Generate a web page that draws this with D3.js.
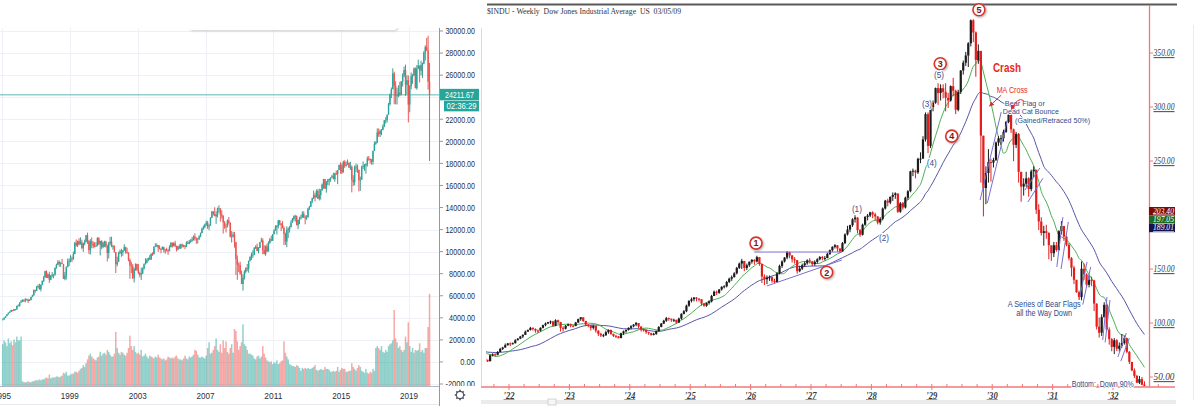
<!DOCTYPE html>
<html><head><meta charset="utf-8">
<script src="https://cdn.jsdelivr.net/npm/d3@7"></script>
<style>body{margin:0;background:#fff;}svg{display:block;}text{white-space:pre;}</style>
</head><body><svg id="c" width="1200" height="416"></svg>
<script>
// ---------------- LEFT PANEL DATA (monthly, Jan 1995 - Mar 2020) ----------------
const leftStartYear = 1995;
const leftFirstOpen = 3834;
const leftClose = [
3844,4011,4158,4321,4465,4556,4708,4647,4789,4756,5075,5117,
5395,5486,5588,5569,5643,5655,5529,5616,5882,6029,6522,6448,
6813,6878,6584,7009,7331,7673,8223,7622,7945,7442,7823,7908,
7907,8546,8800,9063,8900,8952,8883,7539,7843,8592,9117,9181,
9359,9307,9786,10789,10560,10971,10655,10829,10337,10730,10878,11497,
10941,10128,10922,10734,10522,10448,10522,11215,10651,10971,10415,10787,
10887,10495,9879,10735,10912,10502,10523,9950,8848,9075,9852,10022,
9920,10106,10404,9946,9925,9243,8737,8664,7592,8397,8896,8342,
8054,7891,7992,8480,8850,8985,9234,9416,9275,9801,9782,10454,
10488,10584,10358,10226,10188,10435,10140,10174,10080,10027,10428,10783,
10490,10766,10504,10193,10467,10275,10641,10482,10569,10440,10806,10718,
10865,10993,11109,11367,11168,11150,11186,11381,11679,12081,12222,12463,
12622,12269,12354,13063,13628,13409,13212,13358,13896,13930,13372,13265,
12650,12266,12263,12820,12638,11350,11378,11544,10851,9325,8829,8776,
8001,7063,7609,8168,8500,8447,9172,9496,9712,9713,10345,10428,
10067,10325,10857,11009,10137,9774,10466,10015,10788,11118,11006,11578,
11892,12226,12320,12811,12570,12414,12143,11614,10913,11955,12046,12218,
12633,12952,13212,13214,12393,12880,13009,13091,13437,13096,13026,13104,
13861,14054,14579,14840,15116,14910,15500,14810,15130,15546,16086,16577,
15699,16322,16458,16581,16717,16827,16563,17098,17043,17391,17828,17823,
17165,18133,17776,17841,18011,17620,17690,16528,16285,17664,17720,17425,
16466,16517,17685,17774,17787,17930,18432,18401,18308,18142,19124,19763,
19864,20812,20663,20941,21009,21350,21891,21948,22405,23377,24272,24719,
26149,25029,24103,24163,24416,24271,25415,25965,26458,25116,25538,23327,
24999,25916,25929,26593,24815,26600,26864,26403,26917,27046,28051,28538,
28256,25409,24211.67];
const leftHigh = [
3932,4017,4172,4328,4470,4589,4727,4702,4801,4804,5106,5216,
5395,5631,5665,5690,5779,5732,5729,5679,5894,6094,6561,6560,
6883,7023,7085,7009,7384,7796,8259,8299,8008,8178,7878,8149,
7978,8547,8906,9211,9211,9070,9338,8883,8154,8668,9374,9374,
9675,9552,10007,10879,11107,10991,11209,11299,11079,10816,11090,11497,
11723,11041,11136,11287,10935,10864,10843,11311,11310,10977,11027,10899,
10983,10983,10644,10872,11337,11351,10610,10551,9950,9545,9982,10184,
10259,10137,10673,10450,10355,9924,9379,9077,8875,8538,8931,8862,
8869,8168,8552,8557,8923,9405,9369,9460,9686,9833,9933,10454,
10753,10738,10595,10571,10316,10479,10342,10232,10361,10240,10572,10868,
10854,10842,10984,10547,10533,10656,10720,10720,10634,10569,10940,10984,
11048,11137,11317,11467,11670,11299,11242,11477,11727,12167,12361,12529,
12796,12786,12481,13120,13692,13692,14022,13660,14000,14198,13781,13743,
13279,12767,12548,12920,13136,12637,11867,11782,11790,10882,9654,9026,
9088,8280,7924,8318,8578,8877,9172,9580,9918,10119,10406,10580,
10729,10403,10857,11258,11205,10595,10555,10720,10948,11245,11451,11585,
12020,12391,12419,12876,12876,12570,12753,12284,11717,12285,12188,12330,
12840,13055,13290,13338,13279,12898,13159,13331,13653,13662,13290,13307,
13970,14149,14586,14888,15542,15340,15634,15658,15710,15681,16174,16589,
16588,16398,16589,16631,16736,16979,17152,17153,17350,17395,17895,18103,
18000,18244,18289,18175,18351,18115,18138,17815,16933,17799,17978,17900,
17405,16799,17790,18168,17935,18016,18622,18668,18450,18400,19152,19987,
19999,21169,21170,21070,21113,21535,21929,22180,22420,23485,24328,24876,
26617,26307,25449,24858,25087,25403,25461,26168,26770,26951,25980,25980,
25100,26242,26110,26696,26695,26907,27399,26864,27306,27130,28175,28702,
29374,29568,27102];
const leftLow = [
3832,3833,3991,4156,4309,4435,4529,4580,4621,4668,4742,5047,
5000,5360,5435,5420,5407,5585,5346,5516,5587,5876,6009,6268,
6433,6677,6566,6392,6941,7260,7634,7614,7592,7161,7404,7661,
7580,7815,8452,8799,8625,8627,8880,7539,7400,7467,8590,8695,
9026,9057,9272,9762,10466,10413,10594,10646,10213,9976,10560,10851,
10700,9796,9731,10306,10299,10376,10434,10484,10631,9654,10213,10318,
10409,10365,9106,9389,10582,10403,10175,9919,8062,8659,9075,9763,
9529,9625,10053,9808,9808,9121,7532,8043,7528,7197,8266,8233,
7946,7673,7416,7992,8365,8835,8940,9127,9274,9275,9619,9745,
10409,10434,9979,10219,9852,10195,9913,9815,10013,9708,10054,10378,
10368,10476,10404,10012,10110,10265,10271,10370,10392,10216,10406,10680,
10667,10795,10898,11000,10994,10706,10739,11050,11306,11669,11985,12118,
12327,12050,11939,12356,13052,13267,13212,12518,13091,13522,12724,13004,
11635,12071,11731,12189,12445,11287,10827,11284,10365,7882,7449,8149,
7909,7062,6469,7467,8016,8221,8087,9116,9252,9430,9678,10236,
10026,9835,10325,10859,9774,9757,9614,9937,10010,10711,10929,10969,
11573,11893,11555,12093,12381,11862,12093,10605,10597,10404,11232,11720,
12218,12616,12800,12710,12393,12035,12492,12920,13060,13052,12471,12883,
13104,13784,14051,14395,14766,14551,14922,14760,14640,14719,15533,15703,
15698,15341,16015,16015,16333,16699,16563,16334,16945,16117,17391,17068,
17037,17279,17585,17700,17850,17595,17400,15370,15942,16013,17210,17138,
15450,15503,16546,17484,17331,17063,17713,18240,17992,17884,17888,19118,
19677,19831,20413,20380,20554,21040,21279,21600,21710,22416,23243,23922,
24741,23360,23344,23344,23997,24077,24174,24965,25801,24123,24268,21712,
22638,24720,25209,25999,24815,24680,26555,25339,25978,25743,27000,27325,
28170,24681,18213];
const leftVolume = [
44,48,46,42,50,45,47,43,49,46,52,48,
48,52,5,4,4,4,5,4,4,5,5,6,
6,6,7,6,7,7,8,9,8,12,8,9,
9,9,10,10,9,10,11,14,13,15,11,11,
12,13,13,15,15,14,16,18,19,22,20,24,
28,32,34,31,29,28,27,30,31,36,32,34,
35,33,38,36,33,31,31,34,57,40,35,33,
36,35,33,32,35,40,53,42,38,42,36,34,
35,33,38,31,32,34,31,29,32,31,30,29,
31,30,33,30,29,28,29,27,28,31,30,29,
30,29,31,32,29,28,28,27,29,32,29,28,
31,30,31,33,38,37,33,30,30,31,30,29,
32,40,46,34,35,38,42,50,38,36,44,35,
48,40,47,36,34,40,44,35,60,58,47,38,
42,46,65,44,42,38,34,34,33,32,29,28,
31,32,29,31,42,34,30,27,26,25,26,23,
25,24,27,23,24,26,27,47,35,31,28,23,
22,21,21,20,22,21,19,16,19,18,19,18,
19,18,18,19,20,22,17,16,17,18,17,17,
20,18,18,17,15,15,16,15,16,20,15,17,
19,18,18,15,15,16,16,24,20,18,16,19,
22,20,16,15,14,18,14,13,15,14,18,16,
40,42,40,38,42,36,35,38,36,42,44,45,
48,80,50,46,40,42,38,36,38,52,46,67,
42,36,40,35,38,37,38,45,36,38,35,40,
40,62,97];
const leftYTicks = [-2000,0,2000,4000,6000,8000,10000,12000,14000,16000,18000,20000,22000,24000,26000,28000,30000];
const leftYearLabels = [1995,1999,2003,2007,2011,2015,2019];
const lastPrice = 24211.67;
const countdownLabel = "02:36:29";

// ---------------- RIGHT PANEL DATA (semi-monthly, Jan 1921 - Jul 1932) ----------------
const rightStartYear = 1921;
const rightFirstOpen = 74;
const rightClose = [
74.5,76.1,77.0,74.9,75.2,75.8,77.3,77.1,80.0,74.5,69.8,68.5,69.0,68.2,66.0,64.5,70.0,71.0,70.5,73.2,76.0,77.3,79.5,81.1,
80.5,81.3,84.0,85.5,87.5,89.0,92.0,93.5,95.5,94.5,93.0,92.9,95.5,98.0,99.5,100.8,101.5,97.5,102.5,101.0,95.5,94.7,97.5,98.7,
97.5,97.3,100.5,103.6,105.3,101.9,98.5,98.0,95.5,97.6,93.0,90.0,88.5,88.7,91.5,93.5,90.0,88.1,87.5,86.0,90.5,92.3,93.6,95.5,
97.0,98.5,100.0,96.7,94.0,93.5,91.5,90.6,89.0,89.9,92.5,96.4,99.5,102.1,104.5,104.0,103.0,103.0,100.5,104.1,108.5,110.9,116.0,120.5,
122.0,123.6,122.5,122.0,118.0,116.0,118.5,120.0,125.0,129.0,128.0,131.0,133.5,134.0,138.0,141.0,142.5,146.0,151.0,155.0,157.5,151.0,153.5,156.7,
158.5,157.0,161.0,154.7,143.0,140.5,142.0,142.4,139.0,137.9,146.0,152.8,157.0,160.6,165.5,162.5,159.0,158.2,148.0,150.4,153.5,155.3,158.0,157.2,
154.5,156.6,159.0,161.0,160.0,160.1,164.0,167.4,170.5,172.0,169.0,166.2,174.0,182.0,186.5,190.6,196.0,197.6,186.0,181.7,191.0,198.2,199.5,202.4,
200.5,198.6,193.0,196.5,206.0,213.3,211.5,216.9,218.5,220.0,203.0,210.8,207.0,216.0,222.0,240.4,241.0,239.4,252.0,252.2,270.0,293.4,264.0,300.0,
304.0,317.5,313.0,317.4,314.0,308.5,306.0,319.3,315.0,297.4,314.0,333.8,341.0,347.7,359.0,380.3,369.0,343.5,352.0,273.5,225.0,238.9,249.0,248.5,
251.0,267.1,271.0,271.1,277.0,286.1,293.0,279.2,265.0,275.1,240.0,226.3,229.0,233.9,224.0,240.4,242.0,204.9,194.0,183.4,185.0,183.4,172.0,164.6,
172.0,167.6,185.0,189.7,180.0,172.4,160.0,151.2,140.0,128.5,124.0,150.2,145.0,135.4,140.0,139.4,118.0,96.6,91.0,105.4,116.8,93.9,85.0,77.9,
84.0,76.2,79.0,81.4,86.0,73.3,64.0,56.1,51.0,44.7,48.0,42.8,42.5];
const rightHigh = [
76,77,78,77,76,77,78,78,80.5,80,75,70,70,70,68,66,71,72,72,74,77,78,81,81.5,
82,82,85,86,88,89.5,93,94,96.4,96,95,94,96,98.5,100.5,101,102.3,102,103.4,103,100,97,98,99.5,
99.4,98,101,104,105.4,105,102,99,98,98,97,93,91,90,93,94,94,90,89,88,91,93,94,96,
98,99,101,100,97,95,94,92,91,91,93,97,100,103,105.6,105,104,104,103,105,109,112,117,121,
123.6,124,124,123,122,118,119,121,126,130,130,131.5,134,135,139,142,144,147,152,156,159.4,157,155,157,
159.1,159,162.3,161,154,145,144,144,143,141,147,154,158,161,166.6,166,163,161,158,153,155,157,159,160,
157,158,160,162,162,162,165,168,171,173,172,169,175,183,190,191,197,199.8,198,187,192,199,201,203,
203.4,202,199,198,207,214,215,217,220.9,221,219,212,212,217,223,241,243,242,253,258,273,295,295,301,
306,318,322,321,321,322,313,320,327,316,316,334,343,351,360,381,381.2,370,358,345,272,245,261,252,
253,268,273,274,279,287,294.1,293,280,277,276,238,234,240,235,242,245.1,240,210,198,190,191,184,170,
175,175,186,194.4,190,181,174,161,153,140,130,157,155,146,144,143,140,118,105,108,119.2,117,96,86,
86,85,82,89.8,88,85,74,63,58,52,51,50,46];
const rightLow = [
72,74,75,74,73,74,75,76,77,74,68,66,67,67,65,63.9,65,69,69,70,73,75,77,79,
78.6,80,81,84,85,86,89,92,93,93,91,90.7,92,95,97,99,99,96.6,97,99,92,92,94,97,
96,96,97,100,102,101,97,96,93,94,91,88,87,86.9,88,90,89,87,86,85.8,86,89,91,93,
94,96,97,95,92,92,90,89,88.3,88.5,89,92,96,99,101,102,101,101,99.2,100,103,108,110,115,
119,120,120,120,116,115,115,117,119,125,126,127,130,132,133,137,139,142,145,150,150,148,149,152,
155,154,156,153,137,135.2,136,139,137.2,137,138,145,151,156,159,160,156,155,145.7,147,149,152,154,155,
152.7,153,155,158,158,158,160,163,166,169,166,165,166,173,181,184,189,193,183,179.8,181,190,195,198,
197,195,191.3,191,195,205,208,210,213,215,201.9,202,205,206,214,221,236,234,238,248,252,268,257.3,262,
296,303,302,306,308,296,299.1,305,310,293.4,296,312,330,338,337,356,360,328,340,230,198.7,210,230,230.9,
244,250,264,265,268,276,285,276,249.8,262,230,212.3,218,226,216.9,222,235,201,186,181,171.6,178,159,157.5,
161,166,167,182,176,171,158,143,136,128,121.7,121,140,133,133,134,111,94,86.5,88,105,92,80,73.8,
71.2,74,73.6,77,80,72,62,55.4,49,44.4,43.5,42.5,41.2];
const rightYearTicks = [1922,1923,1924,1925,1926,1927,1928,1929,1930,1931,1932];
const rightYearLabels = ["'22","'23","'24","'25","'26","'27","'28","'29","'30","'31","'32"];
const rightYTicks = [50,100,150,250,300,350];
const maFastPeriods = 10, maSlowPeriods = 26;
const tagLabels = ["203.40","197.05","189.01"];
const chartTitle = "$INDU - Weekly  Dow Jones Industrial Average  US  03/05/09";
// annotations in data coordinates (year, index value)
const majorWaves = [{l:"1",t:1926.09,v:174},{l:"2",t:1927.26,v:147},{l:"3",t:1929.14,v:340},{l:"4",t:1929.33,v:273},{l:"5",t:1929.78,v:390}];
const minorWaves = [{l:"(1)",t:1927.76,v:206},{l:"(2)",t:1928.21,v:179},{l:"(3)",t:1928.92,v:303},{l:"(4)",t:1929.00,v:248},{l:"(5)",t:1929.12,v:330}];
const trendLines = [
  [[1926.06,165.7],[1927.51,165.7]],[[1926.27,134.3],[1927.51,158.3]],
  [[1929.80,213.9],[1930.15,295.4]],[[1929.92,211],[1930.26,290]],
  [[1930.54,223],[1930.79,243.5]],[[1930.59,212],[1930.84,234]],
  [[1931.07,151.9],[1931.17,198]],[[1931.14,150],[1931.26,193.5]],
  [[1931.44,121.3],[1931.57,156.5]],[[1931.50,117],[1931.63,151.9]],
  [[1931.83,84.3],[1931.90,124]],[[1931.87,82],[1931.95,121.3]],
  [[1932.08,68.5],[1932.22,90.7]],[[1932.13,64.7],[1932.27,86]]];
const redNotes = [{s:"Crash",t:1930.245,v:336,size:12.5,bold:true,w:28},{s:"MA Cross",t:1930.33,v:317,size:9,bold:false,w:31}];
const blueNotes = [
  {s:"Bear Flag or",t:1930.54,v:303.8,w:40,size:7.8},{s:"Dead Cat Bounce",t:1930.64,v:295.7,w:56,size:7.8},
  {s:"(Gained/Retraced 50%)",t:1931.0,v:287.6,w:75,size:7.8},
  {s:"A Series of Bear Flags",t:1930.86,v:118,w:73,size:9.5},{s:"all the Way Down",t:1930.86,v:109.5,w:56,size:9.5},
  {s:"Bottom:  Down 90%",t:1931.83,v:44,w:62,size:9.5}];

// ---------------- DRAW ----------------
const svg = d3.select("#c");
const defs = svg.append("defs");
defs.append("clipPath").attr("id","clipL").append("rect").attr("x",0).attr("y",28).attr("width",439).attr("height",358);
defs.append("clipPath").attr("id","clipLAxis").append("rect").attr("x",440).attr("y",0).attr("width",45).attr("height",386);
defs.append("clipPath").attr("id","clipLX").append("rect").attr("x",0).attr("y",386).attr("width",439).attr("height",20);
defs.append("clipPath").attr("id","clipR").append("rect").attr("x",486).attr("y",5).attr("width",663).attr("height",382);
const mk = defs.append("marker").attr("id","arr").attr("viewBox","0 0 10 10").attr("refX",8).attr("refY",5)
  .attr("markerWidth",5).attr("markerHeight",5).attr("orient","auto");
mk.append("path").attr("d","M0,0L10,5L0,10z").attr("fill","#e02a2a");
const flt = defs.append("filter").attr("id","sh").attr("x","-50%").attr("y","-50%").attr("width","200%").attr("height","200%");
flt.append("feDropShadow").attr("dx",1).attr("dy",1).attr("stdDeviation",0.8).attr("flood-color","#888").attr("flood-opacity",0.7);

function squeeze(sel, w){ sel.attr("textLength", w).attr("lengthAdjust","spacingAndGlyphs"); return sel; }

// ===== Left panel =====
const xL = d3.scaleLinear().domain([1995, 2020]).range([2, 426]);
const yL = d3.scaleLinear().domain([-2000, 30000]).range([384, 31]);
const vL = d3.scaleLinear().domain([0, 100]).range([386, 291]);
const L = svg.append("g");
const gridL = L.append("g").attr("clip-path","url(#clipL)");
gridL.selectAll("line.h").data(leftYTicks).join("line").attr("x1",0).attr("x2",439)
  .attr("y1",d=>Math.round(yL(d))+0.5).attr("y2",d=>Math.round(yL(d))+0.5).attr("stroke","#edf0f5");
gridL.selectAll("line.v").data(leftYearLabels).join("line").attr("y1",28).attr("y2",386)
  .attr("x1",d=>Math.round(xL(d))+0.5).attr("x2",d=>Math.round(xL(d))+0.5).attr("stroke","#edf0f5");

const lData = leftClose.map((c,i)=>({t:leftStartYear+(i+0.5)/12, o:i?leftClose[i-1]:leftFirstOpen, c, h:leftHigh[i], l:leftLow[i], vol:leftVolume[i]}));
const up="#26a69a", dn="#ef5350";
const plotL = L.append("g").attr("clip-path","url(#clipL)");
plotL.selectAll("rect.vol").data(lData).join("rect")
  .attr("x",d=>xL(d.t)-0.75).attr("width",1.5).attr("y",d=>vL(d.vol)).attr("height",d=>vL(0)-vL(d.vol))
  .attr("fill",d=>d.c>=d.o?up:dn).attr("opacity",0.5);
plotL.append("line").attr("x1",0).attr("x2",439).attr("y1",yL(lastPrice)).attr("y2",yL(lastPrice))
  .attr("stroke","#26a69a").attr("stroke-opacity",0.75);
plotL.selectAll("line.wk").data(lData).join("line")
  .attr("x1",d=>xL(d.t)).attr("x2",d=>xL(d.t)).attr("y1",d=>yL(d.h)).attr("y2",d=>yL(d.l))
  .attr("stroke",d=>d.c>=d.o?"#2b8f85":"#e04a47").attr("stroke-width",0.9);
plotL.selectAll("rect.bd").data(lData).join("rect")
  .attr("x",d=>xL(d.t)-0.7).attr("width",1.4)
  .attr("y",d=>yL(Math.max(d.o,d.c))).attr("height",d=>Math.max(0.8,Math.abs(yL(d.o)-yL(d.c))))
  .attr("fill",d=>d.c>=d.o?up:dn);

// toolbar shadow
L.append("rect").attr("x",189).attr("y",22).attr("width",208).attr("height",8).attr("rx",3).attr("fill","#fff")
  .attr("filter","url(#sh)").attr("opacity",0.6);
L.append("rect").attr("x",186).attr("y",18).attr("width",214).attr("height",10).attr("fill","#fff");

// axes lines
L.append("line").attr("x1",439.5).attr("x2",439.5).attr("y1",28).attr("y2",406).attr("stroke","#9598a1");
L.append("line").attr("x1",0).attr("x2",439).attr("y1",386.5).attr("y2",386.5).attr("stroke","#b2b5be");
L.append("line").attr("x1",0).attr("x2",439).attr("y1",404.5).attr("y2",404.5).attr("stroke","#e6e8ee");
const axL = L.append("g").attr("clip-path","url(#clipLAxis)");
axL.selectAll("line").data(leftYTicks).join("line").attr("x1",440).attr("x2",443)
  .attr("y1",d=>yL(d)).attr("y2",d=>yL(d)).attr("stroke","#9598a1");
axL.selectAll("text").data(leftYTicks).join("text")
  .attr("x",475).attr("y",d=>yL(d)+3.3).attr("text-anchor","end")
  .attr("font-family","Liberation Sans, Arial, sans-serif").attr("font-size",9.5).attr("fill","#2a2e39")
  .text(d=>d.toFixed(2)).each(function(d){ squeeze(d3.select(this), d.toFixed(2).length*3.7); });
L.append("g").attr("clip-path","url(#clipLX)").selectAll("text").data(leftYearLabels).join("text")
  .attr("x",d=>xL(d)).attr("y",399).attr("text-anchor","middle")
  .attr("font-family","Liberation Sans, Arial, sans-serif").attr("font-size",9.5).attr("fill","#2a2e39")
  .text(d=>d).each(function(){ squeeze(d3.select(this), 18); });
// last price label
L.append("rect").attr("x",440).attr("y",yL(lastPrice)-6).attr("width",39).attr("height",11.5).attr("fill","#26a69a");
squeeze(L.append("text").attr("x",459.5).attr("y",yL(lastPrice)+3.5).attr("text-anchor","middle")
  .attr("font-family","Liberation Sans, Arial, sans-serif").attr("font-size",9.5).attr("fill","#fff").text(lastPrice.toFixed(2)),29);
L.append("rect").attr("x",444).attr("y",yL(lastPrice)+6).attr("width",35).attr("height",10.5).attr("fill","#26a69a");
squeeze(L.append("text").attr("x",461.5).attr("y",yL(lastPrice)+14.5).attr("text-anchor","middle")
  .attr("font-family","Liberation Sans, Arial, sans-serif").attr("font-size",9.5).attr("fill","#fff").text(countdownLabel),30);
// gear icon
const gear = L.append("g").attr("transform","translate(460,395)");
gear.selectAll("line").data(d3.range(8)).join("line")
  .attr("x1",d=>3*Math.cos(d*Math.PI/4)).attr("y1",d=>3*Math.sin(d*Math.PI/4))
  .attr("x2",d=>5.2*Math.cos(d*Math.PI/4)).attr("y2",d=>5.2*Math.sin(d*Math.PI/4))
  .attr("stroke","#50535e").attr("stroke-width",1.6);
gear.append("circle").attr("r",3.6).attr("fill","#fff").attr("stroke","#50535e").attr("stroke-width",1.1);

// ===== Right panel =====
const xR = d3.scaleLinear().domain([1922, 1932]).range([509, 1113]);
const yR = d3.scaleLinear().domain([50, 350]).range([377, 53]);
const R = svg.append("g");
R.append("line").attr("x1",481.5).attr("x2",481.5).attr("y1",28).attr("y2",386).attr("stroke","#cfdcec");
R.append("line").attr("x1",1193.5).attr("x2",1193.5).attr("y1",25).attr("y2",400).attr("stroke","#ececec");
R.append("line").attr("x1",487).attr("x2",1177).attr("y1",4.5).attr("y2",4.5).attr("stroke","#5a5a5a").attr("stroke-width",2);
squeeze(R.append("text").attr("x",487).attr("y",13.5).attr("font-family","Liberation Serif, Times New Roman, serif")
  .attr("font-size",9).attr("fill","#333").text(chartTitle),194);

const rData = rightClose.map((c,i)=>({t:rightStartYear+(Math.floor(i/2)+0.25+0.5*(i%2))/12, o:i?rightClose[i-1]:rightFirstOpen, c, h:rightHigh[i], l:rightLow[i]}));
function sma(n){ return rData.map((d,i)=>{ const s=rightClose.slice(Math.max(0,i-n+1),i+1); return {t:d.t, v:d3.mean(s)}; }); }
const plotR = R.append("g").attr("clip-path","url(#clipR)");
const ln = d3.line().x(d=>xR(d.t)).y(d=>yR(d.v)).curve(d3.curveMonotoneX);
plotR.append("path").attr("d",ln(sma(maSlowPeriods))).attr("fill","none").attr("stroke","#5555a8").attr("stroke-width",1);
plotR.append("path").attr("d",ln(sma(maFastPeriods))).attr("fill","none").attr("stroke","#4caf50").attr("stroke-width",1);
const rUp="#1c1c1c", rDn="#e41c1c";
plotR.selectAll("line.wk").data(rData).join("line")
  .attr("x1",d=>xR(d.t)).attr("x2",d=>xR(d.t)).attr("y1",d=>yR(d.h)).attr("y2",d=>yR(d.l))
  .attr("stroke",d=>d.c>=d.o?rUp:rDn).attr("stroke-width",1);
plotR.selectAll("rect.bd").data(rData).join("rect")
  .attr("x",d=>xR(d.t)-1.1).attr("width",2.2)
  .attr("y",d=>yR(Math.max(d.o,d.c))).attr("height",d=>Math.max(1,Math.abs(yR(d.o)-yR(d.c))))
  .attr("fill",d=>d.c>=d.o?rUp:rDn);

// trend lines / flags
R.selectAll("line.tl").data(trendLines).join("line")
  .attr("x1",d=>xR(d[0][0])).attr("y1",d=>yR(d[0][1])).attr("x2",d=>xR(d[1][0])).attr("y2",d=>yR(d[1][1]))
  .attr("stroke","#7a6fd0").attr("stroke-width",1);

// axes
R.append("line").attr("x1",1149.5).attr("x2",1149.5).attr("y1",5).attr("y2",387).attr("stroke","#f07878").attr("stroke-width",1.3);
R.append("line").attr("x1",481).attr("x2",1175).attr("y1",387).attr("y2",387).attr("stroke","#f07878").attr("stroke-width",1.5);
const minorT = []; for (let q=0;q<45;q++) minorT.push(1921.75+q*0.25);
R.selectAll("line.mt").data(minorT.filter(t=>xR(t)<1172)).join("line")
  .attr("x1",d=>xR(d)).attr("x2",d=>xR(d)).attr("y1",384).attr("y2",387).attr("stroke","#f07878");
R.selectAll("line.yt").data(rightYearTicks).join("line")
  .attr("x1",d=>xR(d)).attr("x2",d=>xR(d)).attr("y1",387).attr("y2",390).attr("stroke","#f07878");
R.selectAll("text.yl").data(rightYearTicks).join("text")
  .attr("x",d=>xR(d)).attr("y",398.5).attr("text-anchor","middle")
  .attr("font-family","Liberation Serif, Times New Roman, serif").attr("font-style","italic").attr("font-weight","bold")
  .attr("text-decoration","underline").attr("font-size",9.5).attr("fill","#3a3a3a")
  .text((d,i)=>rightYearLabels[i]).each(function(){ squeeze(d3.select(this), 11); });
R.selectAll("line.yt2").data(rightYTicks).join("line")
  .attr("x1",1150).attr("x2",1153).attr("y1",d=>yR(d)).attr("y2",d=>yR(d)).attr("stroke","#f07878");
R.selectAll("text.yv").data(rightYTicks).join("text")
  .attr("x",1153.5).attr("y",d=>yR(d)+3.2)
  .attr("font-family","Liberation Serif, Times New Roman, serif").attr("font-style","italic")
  .attr("text-decoration","underline").attr("font-size",9.5).attr("fill","#3a3a3a")
  .text(d=>d.toFixed(2)).each(function(){ squeeze(d3.select(this), 21); });
// value tags
const tagColors = ["#7d0a0a","#1e6a1e","#141450"];
tagLabels.forEach((s,i)=>{
  R.append("rect").attr("x",1149).attr("y",207+i*8.4).attr("width",26).attr("height",8.4).attr("fill",tagColors[i]);
  squeeze(R.append("text").attr("x",1153).attr("y",213.6+i*8.4).attr("font-family","Liberation Serif, Times New Roman, serif")
    .attr("font-style","italic").attr("text-decoration","underline").attr("font-size",7.2).attr("fill","#fff").text(s),21);
});
// scrollbar
R.append("rect").attr("x",481).attr("y",400).attr("width",695).attr("height",4).attr("fill","#ebebeb");
R.append("rect").attr("x",548).attr("y",399).attr("width",8).attr("height",6).attr("fill","#f6f6f6").attr("stroke","#bdbdbd").attr("stroke-width",0.6);

// wave circles
const wv = R.selectAll("g.wv").data(majorWaves).join("g").attr("transform",d=>`translate(${xR(d.t)},${yR(d.v)})`);
wv.append("circle").attr("r",6).attr("fill","#fff").attr("stroke","#d8322a").attr("stroke-width",1.6).attr("filter","url(#sh)");
wv.append("text").attr("y",3.3).attr("text-anchor","middle").attr("font-family","Liberation Sans, Arial, sans-serif")
  .attr("font-size",9).attr("font-weight","bold").attr("fill","#7a1414").text(d=>d.l);
R.selectAll("text.mw").data(minorWaves).join("text")
  .attr("x",d=>xR(d.t)).attr("y",d=>yR(d.v)+3).attr("text-anchor","middle")
  .attr("font-family","Liberation Sans, Arial, sans-serif").attr("font-size",9).attr("fill","#33518f")
  .attr("stroke","#fff").attr("stroke-width",2).attr("paint-order","stroke").text(d=>d.l)
  .each(function(){ squeeze(d3.select(this), 10); });
// red notes
redNotes.forEach(n=>{
  squeeze(R.append("text").attr("x",xR(n.t)).attr("y",yR(n.v)+4).attr("text-anchor","middle")
    .attr("font-family","Liberation Sans, Arial, sans-serif").attr("font-size",n.size).attr("font-weight",n.bold?"bold":"normal")
    .attr("fill","#e82a22").attr("stroke","#fff").attr("stroke-width",2).attr("paint-order","stroke").text(n.s), n.w);
});
blueNotes.forEach(n=>{
  squeeze(R.append("text").attr("x",xR(n.t)).attr("y",yR(n.v)+n.size*0.36).attr("text-anchor","middle")
    .attr("font-family","Liberation Sans, Arial, sans-serif").attr("font-size",n.size)
    .attr("fill","#2f4c8c").attr("stroke","#fff").attr("stroke-width",2).attr("paint-order","stroke").text(n.s), n.w);
});
// arrows
R.append("line").attr("x1",xR(1930.15)).attr("y1",yR(311)).attr("x2",xR(1929.96)).attr("y2",yR(301))
  .attr("stroke","#e02a2a").attr("stroke-width",1).attr("marker-end","url(#arr)");
const a0=[xR(1930.52),yR(306)], a1=[xR(1930.32),yR(298)];
R.append("path").attr("d",`M${a0[0]},${a0[1]} Q${(a0[0]+a1[0])/2},${a0[1]-4} ${a1[0]},${a1[1]}`)
  .attr("fill","none").attr("stroke","#e02a2a").attr("stroke-width",1).attr("marker-end","url(#arr)");
</script></body></html>
